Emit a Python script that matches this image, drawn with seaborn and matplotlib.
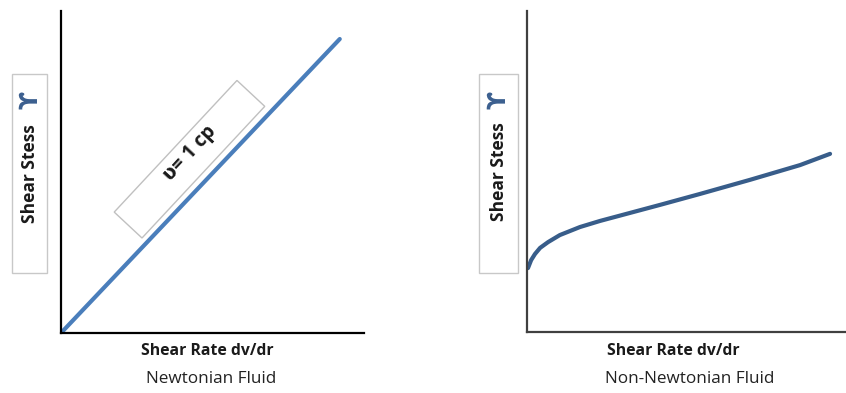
import numpy as np
import pandas as pd
import seaborn as sns
import matplotlib.pyplot as plt
from matplotlib.patches import Rectangle
from matplotlib.transforms import IdentityTransform

# data (axis units 0-100)
newt_x = [0.0, 92.0]
newt_y = [0.0, 91.3]
nonnewt_x = [0.3, 1.3, 2.5, 4.1, 6.6, 10.3, 16.6, 22.9, 32.3, 41.7, 54.2, 69.9, 85.6, 95.0]
nonnewt_y = [19.9, 22.4, 24.3, 26.2, 28.0, 30.2, 32.7, 34.6, 37.1, 39.6, 43.0, 47.4, 52.0, 55.5]

xlabel = "Shear Rate dv/dr"
ylabel = "Shear Stess"
titles = ["Newtonian Fluid", "Non-Newtonian Fluid"]
visc_label = "ʋ= 1 cp"

sns.set_theme(style="white")
plt.rcParams['font.family'] = ['Open Sans', 'DejaVu Sans']

W, H = 846, 393
fig = plt.figure(figsize=(W / 100, H / 100), dpi=100)

def fx(px):
    return px / W

def fy(py):
    return 1 - py / H

ax1 = fig.add_axes([fx(61), fy(333), fx(303), 322 / H])
ax2 = fig.add_axes([fx(527), fy(332), fx(319), 321 / H])

df1 = pd.DataFrame({"x": newt_x, "y": newt_y})
df2 = pd.DataFrame({"x": nonnewt_x, "y": nonnewt_y})
sns.lineplot(data=df1, x="x", y="y", ax=ax1, color="#4a7ebb", lw=3)
sns.lineplot(data=df2, x="x", y="y", ax=ax2, color="#385d8a", lw=3)

for ax, sc in [(ax1, "black"), (ax2, "#404040")]:
    ax.set_xlim(0, 100)
    ax.set_ylim(0, 100)
    ax.set_xticks([])
    ax.set_yticks([])
    ax.set_xlabel("")
    ax.set_ylabel("")
    for s in ["top", "right"]:
        ax.spines[s].set_visible(False)
    for s in ["left", "bottom"]:
        ax.spines[s].set_color(sc)
        ax.spines[s].set_linewidth(1.6)

# x labels and captions
for cx, cx2, title in [(207, 211, titles[0]), (673, 690, titles[1])]:
    fig.text(fx(cx), fy(351), xlabel, ha="center", va="center",
             fontsize=11.3, fontweight="bold", color="#1a1a1a")
    fig.text(fx(cx2), fy(379), title, ha="center", va="center",
             fontsize=12.3, color="#222222")

# y label boxes
for bx0, bx1, tx, ty, taux in [(12, 47, 30, 174, 31), (479, 518, 499, 172, 498)]:
    fig.patches.append(Rectangle((fx(bx0), fy(273)), fx(bx1 - bx0), 199 / H,
                                 transform=fig.transFigure, fill=False,
                                 edgecolor="#c8c8c8", lw=1))
    fig.text(fx(tx), fy(ty), ylabel, rotation=90, ha="center", va="center",
             fontsize=12.5, fontweight="bold", color="#1a1a1a")
    fig.text(fx(taux), fy(100), "ϒ", rotation=90, ha="center", va="center",
             fontsize=17, fontweight="bold", color="#3b5f8f",
             family=["DejaVu Sans"])

# viscosity annotation box (pixel coords, origin bottom-left)
fig.patches.append(Rectangle((142, H - 238), 180, 38, angle=47,
                             transform=IdentityTransform(), fill=False,
                             edgecolor="#c0c0c0", lw=1))
fig.text(fx(190), fy(153), visc_label, rotation=47, ha="center", va="center",
         fontsize=14, fontweight="bold", color="#1a1a1a")

fig.savefig("out.png", dpi=100)
